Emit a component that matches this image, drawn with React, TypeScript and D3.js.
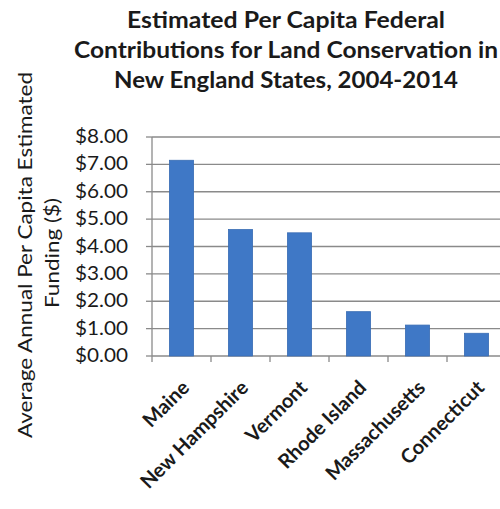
import React from "react";
import * as d3 from "d3";

const titleLines = [
  "Estimated Per Capita Federal",
  "Contributions for Land Conservation in",
  "New England States, 2004-2014",
];
const titleWidths = [318, 424, 344];
const yTitleLines = ["Average Annual Per Capita Estimated", "Funding ($)"];
const states = ["Maine", "New Hampshire", "Vermont", "Rhode Island", "Massachusetts", "Connecticut"];
const values = [7.15, 4.62, 4.5, 1.62, 1.13, 0.83];
const yTicks = [0, 1, 2, 3, 4, 5, 6, 7, 8];

export default function App() {
  const W = 500;
  const H = 509;
  const left = 152;
  const top = 137;
  const bottom = 356;
  const plotRight = 506;

  const x = d3.scaleBand<string>().domain(states).range([left, plotRight]).paddingInner(0.59).paddingOuter(0.295);
  const xb = d3.scaleBand<string>().domain(states).range([left, plotRight]);
  const y = d3.scaleLinear().domain([0, 8]).range([bottom, top]);
  const fmt = (v: number) => "$" + d3.format(".2f")(v);
  const font = "Lato, 'Open Sans', sans-serif";

  return (
    <svg width={W} height={H} style={{ position: "absolute", left: 0, top: 0, background: "#fff" }} fontFamily={font}>
      <rect width={W} height={H} fill="#fff" />
      {titleLines.map((t, i) => (
        <text key={i} x={286} y={28 + i * 30} textAnchor="middle" fontWeight="bold" fontSize={22} fill="#1a1a1a" textLength={titleWidths[i]} lengthAdjust="spacingAndGlyphs">
          {t}
        </text>
      ))}
      <g transform={`translate(32,255) rotate(-90)`}>
        <text textAnchor="middle" fontSize={20} fill="#1a1a1a" textLength={366} lengthAdjust="spacingAndGlyphs">{yTitleLines[0]}</text>
      </g>
      <g transform={`translate(59,253) rotate(-90)`}>
        <text textAnchor="middle" fontSize={20} fill="#1a1a1a" textLength={110} lengthAdjust="spacingAndGlyphs">{yTitleLines[1]}</text>
      </g>
      {yTicks.map((t) => (
        <g key={t}>
          <line x1={left} x2={W} y1={y(t)} y2={y(t)} stroke="#8a8a8a" strokeWidth={1.3} />
          <line x1={left - 6} x2={left} y1={y(t)} y2={y(t)} stroke="#8a8a8a" strokeWidth={1.3} />
          <text x={128} y={y(t) + 6} textAnchor="end" fontSize={19} fill="#1a1a1a" textLength={53} lengthAdjust="spacingAndGlyphs">
            {fmt(t)}
          </text>
        </g>
      ))}
      <line x1={left} x2={left} y1={top} y2={bottom} stroke="#8a8a8a" strokeWidth={1.3} />
      {states.map((s) => (
        <line key={s} x1={xb(s)!} x2={xb(s)!} y1={bottom} y2={bottom + 6} stroke="#8a8a8a" strokeWidth={1.3} />
      ))}
      {states.map((s, i) => (
        <rect key={s} x={x(s)!} y={y(values[i])} width={x.bandwidth()} height={bottom - y(values[i])} fill="#3f78c6" stroke="#3a6db4" strokeWidth={0.8} />
      ))}
      {states.map((s) => {
        const cx = x(s)! + x.bandwidth() / 2 + 9;
        return (
          <text key={s} transform={`translate(${cx},${bottom + 33}) rotate(-45)`} textAnchor="end" fontSize={20} fontWeight="bold" fill="#1a1a1a">
            {s}
          </text>
        );
      })}
    </svg>
  );
}
